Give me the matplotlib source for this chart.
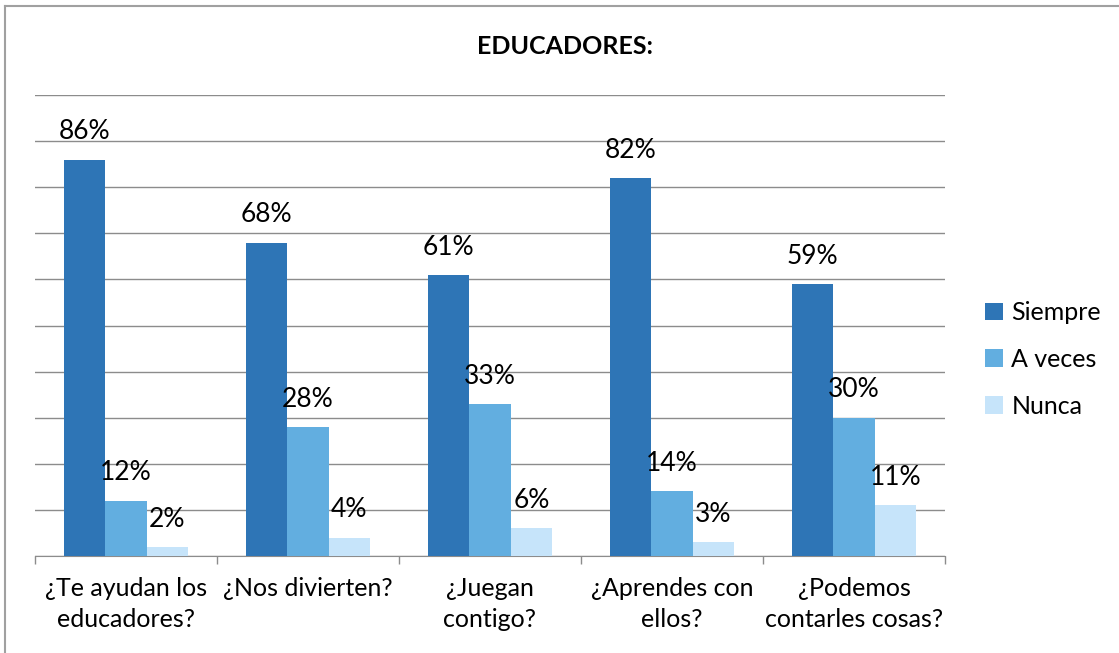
import numpy as np
import matplotlib.pyplot as plt
from matplotlib.lines import Line2D

# Datos del grafico
preguntas = ['¿Te ayudan los\neducadores?', '¿Nos divierten?', '¿Juegan\ncontigo?',
             '¿Aprendes con\nellos?', '¿Podemos\ncontarles cosas?']
siempre = [86, 68, 61, 82, 59]
a_veces = [12, 28, 33, 14, 30]
nunca = [2, 4, 6, 3, 11]
series = ['Siempre', 'A veces', 'Nunca']
colores = ['#2E75B6', '#62AEE0', '#C6E4FA']

plt.rcParams['font.family'] = ['Lato', 'DejaVu Sans']

fig = plt.figure(figsize=(11.19, 6.53), dpi=100)
W, H = 1119, 653
ax = fig.add_axes([35 / W, (H - 556) / H, 910 / W, (556 - 95) / H])

x = np.arange(len(preguntas))
ancho = 0.227
valores = [siempre, a_veces, nunca]
for i, (vals, nombre, col) in enumerate(zip(valores, series, colores)):
    pos = x + (i - 1) * ancho
    ax.bar(pos, vals, width=ancho, color=col, label=nombre, zorder=3)
    for p, v in zip(pos, vals):
        ax.text(p, v + 3.3, '{}%'.format(v), ha='center', va='bottom', fontsize=19, color='black', zorder=4)

ax.set_xlim(-0.5, len(preguntas) - 0.5)
ax.set_ylim(0, 100)
ax.set_yticks(np.arange(0, 101, 10))
ax.set_yticklabels([])
ax.tick_params(axis='y', length=0)
ax.grid(axis='y', color='#8c8c8c', linewidth=1, zorder=0)

ax.set_xticks(np.arange(-0.5, len(preguntas)), minor=False)
ax.set_xticklabels([])
ax.tick_params(axis='x', direction='out', length=6, color='#8c8c8c', width=1)
for xi, lab in zip(x, preguntas):
    ax.text(xi, -4.5, lab, ha='center', va='top', fontsize=18, linespacing=1.45,
            transform=ax.transData)

for s in ['top', 'right', 'left']:
    ax.spines[s].set_visible(False)
ax.spines['bottom'].set_color('#8c8c8c')

fig.text(565 / W, 1 - 46 / H, 'EDUCADORES:', ha='center', va='center', fontsize=18, fontweight='bold')

leg = fig.legend(loc='upper left', bbox_to_anchor=(975 / W, 1 - 291 / H), frameon=False,
                 fontsize=18, handlelength=0.7, handleheight=0.7, handletextpad=0.35,
                 labelspacing=0.95, borderaxespad=0)

# borde del grafico
fig.add_artist(Line2D([5 / W, 5 / W], [0, 1 - 6 / H], color='#a0a0a0', linewidth=1.5))
fig.add_artist(Line2D([5 / W, 1], [1 - 6 / H, 1 - 6 / H], color='#a0a0a0', linewidth=1.5))

fig.savefig('out.png', dpi=100)
